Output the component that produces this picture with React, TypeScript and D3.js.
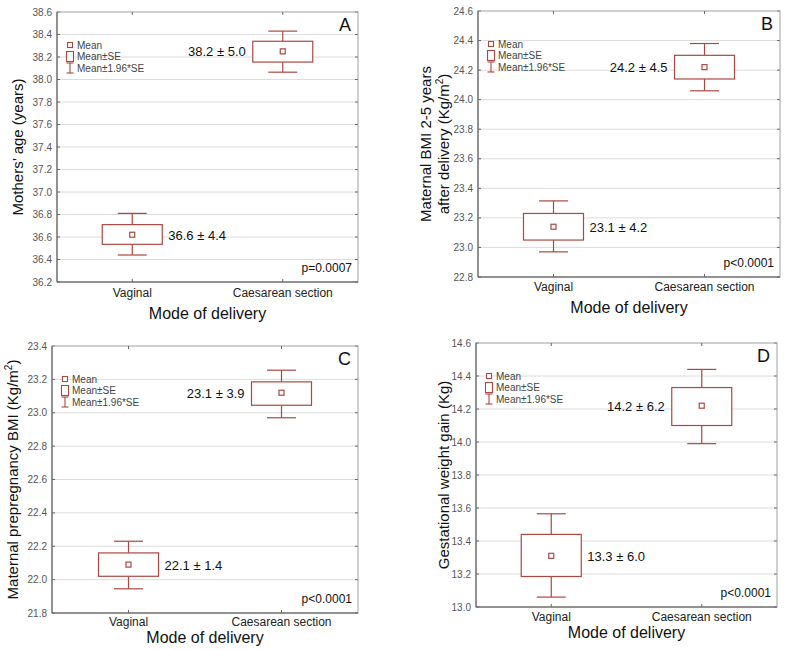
import React from "react";
import * as d3 from "d3";

const categories = ["Vaginal", "Caesarean section"];
const panelLetters = ["A", "B", "C", "D"];
const yMin = [36.2, 22.8, 21.8, 13.0];
const yMax = [38.6, 24.6, 23.4, 14.6];
const means = [[36.62, 38.25], [23.14, 24.22], [22.09, 23.12], [13.31, 14.22]];
const seLow = [[36.535, 38.155], [23.05, 24.14], [22.02, 23.045], [13.185, 14.1]];
const seHigh = [[36.71, 38.34], [23.23, 24.3], [22.16, 23.185], [13.44, 14.33]];
const ciLow = [[36.44, 38.065], [22.97, 24.06], [21.945, 22.97], [13.06, 13.99]];
const ciHigh = [[36.81, 38.43], [23.315, 24.38], [22.23, 23.255], [13.565, 14.44]];
const valueLabels = [
  ["36.6 ± 4.4", "38.2 ± 5.0"],
  ["23.1 ± 4.2", "24.2 ± 4.5"],
  ["22.1 ± 1.4", "23.1 ± 3.9"],
  ["13.3 ± 6.0", "14.2 ± 6.2"],
];
const pValues = ["p=0.0007", "p<0.0001", "p<0.0001", "p<0.0001"];
const xTitle = "Mode of delivery";
const legendLabels = ["Mean", "Mean±SE", "Mean±1.96*SE"];

const layouts = [
  { left: 57, right: 358, top: 12, bottom: 282, yTitleX: 18, tickY: 15, titleY: 37 },
  { left: 478, right: 780, top: 11, bottom: 277, yTitleX: 435, tickY: 14, titleY: 36 },
  { left: 52, right: 358, top: 346, bottom: 613, yTitleX: 13, tickY: 13, titleY: 30 },
  { left: 476, right: 777, top: 343, bottom: 607, yTitleX: 444, tickY: 14, titleY: 31 },
];

const COLOR = "#ab4842";
const FONT = "Liberation Sans, Arial, sans-serif";

function YTitle({ i, x, cy }: { i: number; x: number; cy: number }) {
  const common = {
    fontFamily: FONT,
    fontSize: 15,
    fill: "#111",
    textAnchor: "middle" as const,
  };
  if (i === 0)
    return (
      <text {...common} transform={`translate(${x + 5},${cy}) rotate(-90)`}>
        Mothers’ age (years)
      </text>
    );
  if (i === 1)
    return (
      <text {...common} transform={`translate(${x},${cy}) rotate(-90)`}>
        <tspan x={0} y={-4}>Maternal BMI 2-5 years</tspan>
        <tspan x={0} y={14}>
          after delivery (Kg/m<tspan dy={-6} fontSize={10}>2</tspan>
          <tspan dy={6}>)</tspan>
        </tspan>
      </text>
    );
  if (i === 2)
    return (
      <text {...common} transform={`translate(${x + 5},${cy}) rotate(-90)`}>
        Maternal prepregnancy BMI (Kg/m<tspan dy={-6} fontSize={10}>2</tspan>
        <tspan dy={6}>)</tspan>
      </text>
    );
  return (
    <text {...common} transform={`translate(${x + 5},${cy}) rotate(-90)`}>
      Gestational weight gain (Kg)
    </text>
  );
}

function Panel({ i }: { i: number }) {
  const L = layouts[i];
  const y = d3.scaleLinear().domain([yMin[i], yMax[i]]).range([L.bottom, L.top]);
  const x = d3.scalePoint<string>().domain(categories).range([L.left, L.right]).padding(0.5);
  const ticks = d3.range(0, Math.round((yMax[i] - yMin[i]) / 0.2) + 1).map((k) => +(yMin[i] + k * 0.2).toFixed(1));
  const fmt = d3.format(".1f");
  const boxW = 60;
  const capW = 29;
  const lx = L.left + 13;
  const ly = L.top + 33;
  return (
    <g>
      {ticks.map((t) => (
        <g key={t}>
          {t !== yMin[i] && t !== yMax[i] && (
            <line x1={L.left} x2={L.right} y1={y(t)} y2={y(t)} stroke="#dcdcdc" strokeWidth={1} />
          )}
          <line x1={L.right} x2={L.right - 3} y1={y(t)} y2={y(t)} stroke="#666" />
          <line x1={L.left} x2={L.left + 3} y1={y(t)} y2={y(t)} stroke="#666" />
          <text
            x={L.left - 5}
            y={y(t) + 3.5}
            textAnchor="end"
            fontFamily={FONT}
            fontSize={10}
            fill="#555"
          >
            {fmt(t)}
          </text>
        </g>
      ))}
      <rect x={L.left} y={L.top} width={L.right - L.left} height={L.bottom - L.top} fill="none" stroke="#a0a0a0" />
      <line x1={L.left} x2={L.left} y1={L.top} y2={L.bottom} stroke="#555" />
      <line x1={L.left} x2={L.right} y1={L.bottom} y2={L.bottom} stroke="#555" />
      {categories.map((c, j) => {
        const cx = x(c)!;
        return (
          <g key={c}>
            <line x1={cx} x2={cx} y1={L.bottom} y2={L.bottom - 3} stroke="#666" />
            <line x1={cx} x2={cx} y1={L.top} y2={L.top + 3} stroke="#666" />
            <text
              x={cx}
              y={L.bottom + L.tickY}
              textAnchor="middle"
              fontFamily={FONT}
              fontSize={12}
              fill="#222"
            >
              {c}
            </text>
            <line x1={cx} x2={cx} y1={y(ciHigh[i][j])} y2={y(seHigh[i][j])} stroke={COLOR} strokeWidth={1.2} />
            <line x1={cx} x2={cx} y1={y(seLow[i][j])} y2={y(ciLow[i][j])} stroke={COLOR} strokeWidth={1.2} />
            <line x1={cx - capW / 2} x2={cx + capW / 2} y1={y(ciHigh[i][j])} y2={y(ciHigh[i][j])} stroke={COLOR} strokeWidth={1.2} />
            <line x1={cx - capW / 2} x2={cx + capW / 2} y1={y(ciLow[i][j])} y2={y(ciLow[i][j])} stroke={COLOR} strokeWidth={1.2} />
            <rect
              x={cx - boxW / 2}
              y={y(seHigh[i][j])}
              width={boxW}
              height={y(seLow[i][j]) - y(seHigh[i][j])}
              fill="#fff"
              stroke={COLOR}
              strokeWidth={1.2}
            />
            <rect x={cx - 2.5} y={y(means[i][j]) - 2.5} width={5} height={5} fill="#fff" stroke={COLOR} strokeWidth={1.2} />
            <text
              x={j === 0 ? cx + boxW / 2 + 6 : cx - boxW / 2 - 7}
              y={y(means[i][j]) + 5}
              textAnchor={j === 0 ? "start" : "end"}
              fontFamily={FONT}
              fontSize={13}
              fill="#111"
            >
              {valueLabels[i][j]}
            </text>
          </g>
        );
      })}
      <text x={L.right - 7} y={L.top + 19} textAnchor="end" fontFamily={FONT} fontSize={18} fill="#111">
        {panelLetters[i]}
      </text>
      <text x={L.right - 6} y={L.bottom - 10} textAnchor="end" fontFamily={FONT} fontSize={12} fill="#111">
        {pValues[i]}
      </text>
      {/* legend */}
      <rect x={lx - 2.5} y={ly - 2.5} width={5} height={5} fill="#fff" stroke={COLOR} strokeWidth={1.1} />
      <rect x={lx - 3.5} y={ly + 11.5 - 5} width={7} height={10} fill="#fff" stroke={COLOR} strokeWidth={1.1} />
      <line x1={lx} x2={lx} y1={ly + 23 - 5} y2={ly + 23 + 5} stroke={COLOR} strokeWidth={1.1} />
      <line x1={lx - 3.5} x2={lx + 3.5} y1={ly + 23 - 5} y2={ly + 23 - 5} stroke={COLOR} strokeWidth={1.1} />
      <line x1={lx - 3.5} x2={lx + 3.5} y1={ly + 23 + 5} y2={ly + 23 + 5} stroke={COLOR} strokeWidth={1.1} />
      {legendLabels.map((t, k) => (
        <text key={t} x={lx + 7} y={ly + k * 11.5 + 3.5} fontFamily={FONT} fontSize={10} fill="#444">
          {t}
        </text>
      ))}
      <YTitle i={i} x={L.yTitleX} cy={(L.top + L.bottom) / 2} />
      <text
        x={(L.left + L.right) / 2}
        y={L.bottom + L.titleY}
        textAnchor="middle"
        fontFamily={FONT}
        fontSize={16}
        fill="#111"
      >
        {xTitle}
      </text>
    </g>
  );
}

export default function App() {
  return (
    <svg
      width={787}
      height={650}
      style={{ position: "absolute", left: 0, top: 0, background: "#fff" }}
    >
      <rect width={787} height={650} fill="#fff" />
      {[0, 1, 2, 3].map((i) => (
        <Panel key={i} i={i} />
      ))}
    </svg>
  );
}
